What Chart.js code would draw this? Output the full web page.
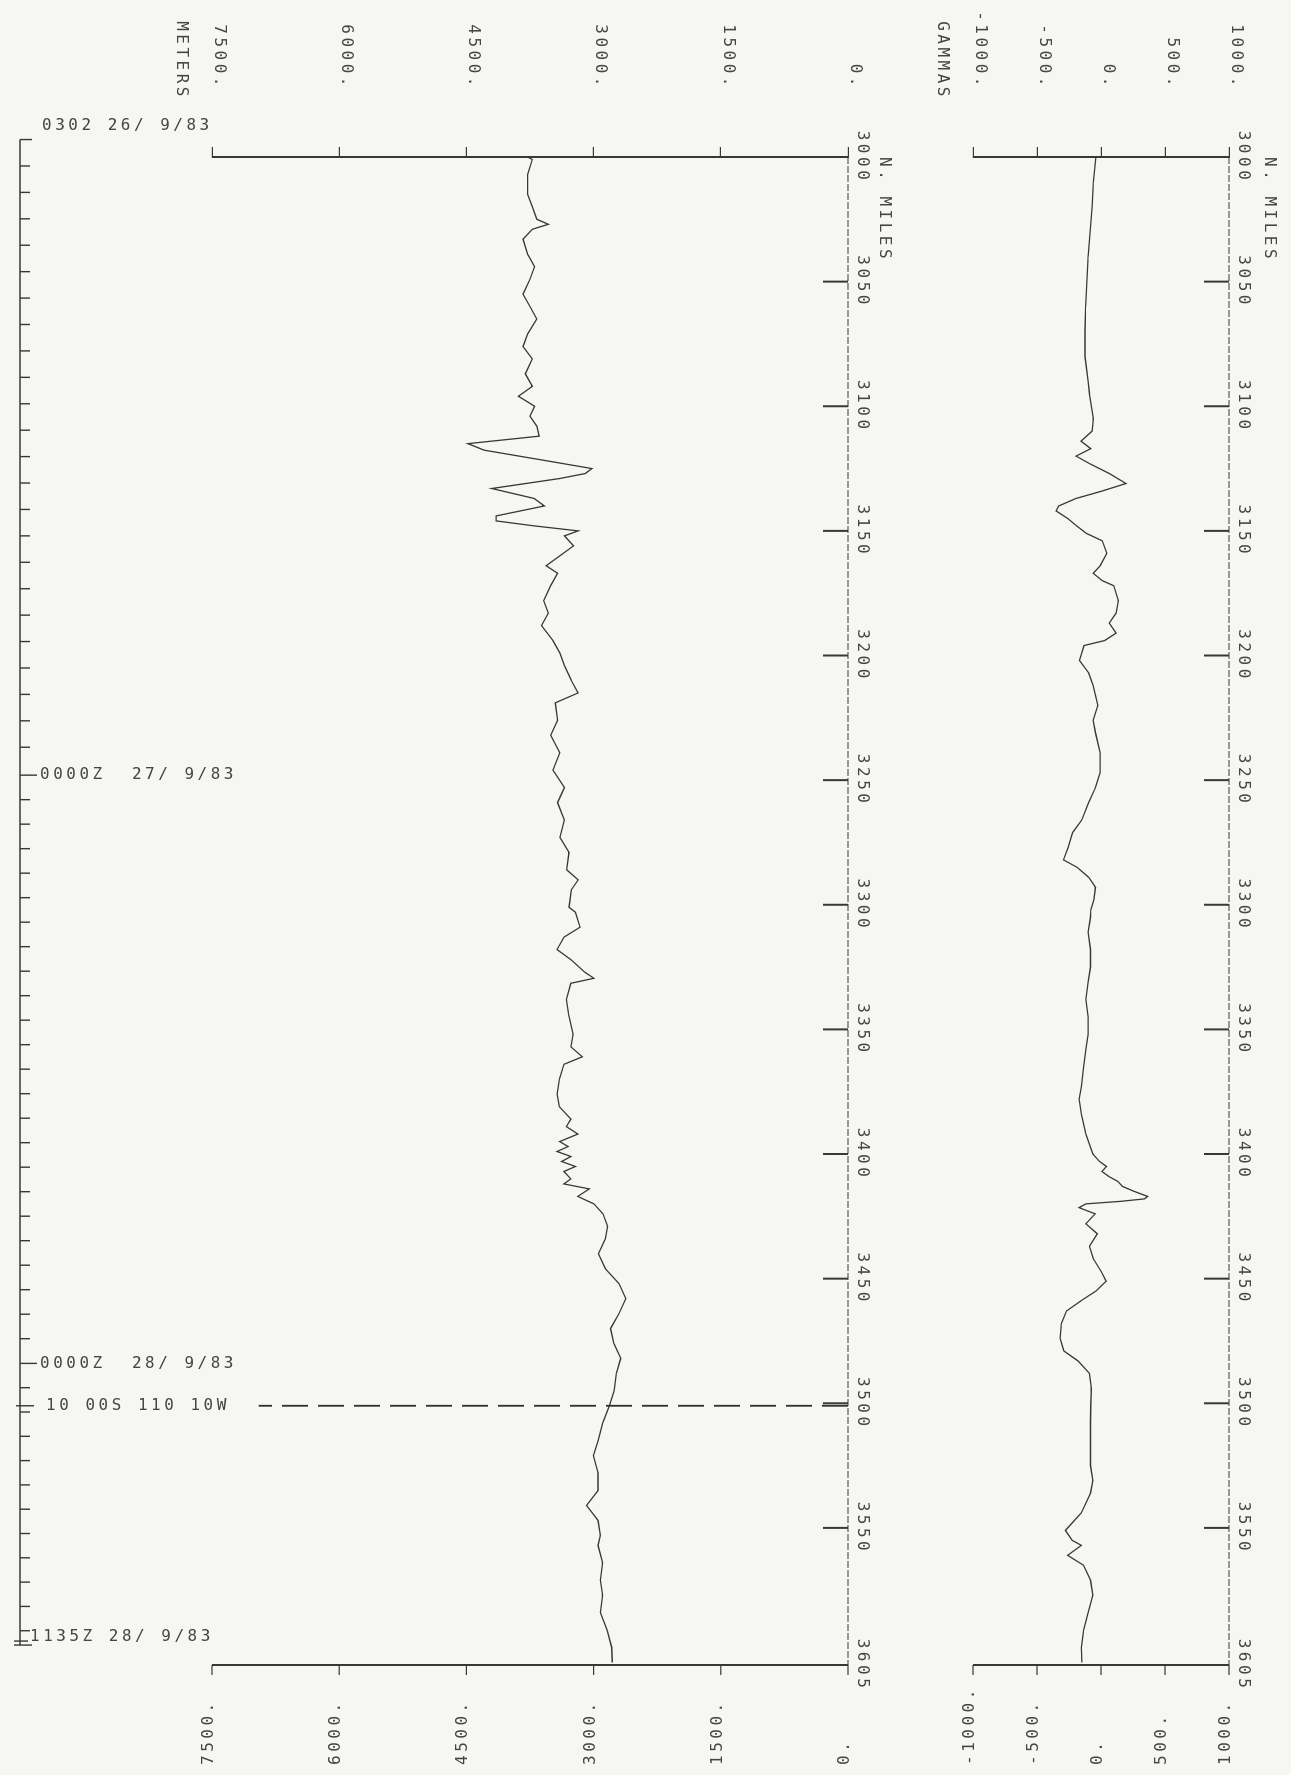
<!DOCTYPE html>
<html><head><meta charset="utf-8">
<script src="https://cdn.jsdelivr.net/npm/chart.js"></script>
<style>
html,body{margin:0;padding:0;background:#f6f6f3;overflow:hidden;}
body{width:1291px;height:1775px;position:relative;}
#rot{position:absolute;left:0;top:0;width:1775px;height:1291px;transform-origin:0 0;transform:translate(1291px,0) rotate(90deg);}
.c{position:absolute;left:0;width:1775px;}
</style></head><body>
<div id="rot">
 <div class="c" style="top:0;height:360px"><canvas id="mag"></canvas></div>
 <div class="c" style="top:360px;height:760px"><canvas id="dep"></canvas></div>
 <div class="c" style="top:1040px;height:251px"><canvas id="tim"></canvas></div>
</div>
<script>
// ---- axis definitions ----
const mileMin = 3000, mileMax = 3605;
const mileLabels = [3000,3050,3100,3150,3200,3250,3300,3350,3400,3450,3500,3550,3605];
const mileInnerTicks = [3050,3100,3150,3200,3250,3300,3350,3400,3450,3500,3550];
const gammaTicks = [-1000,-500,0,500,1000];
const meterTicks = [0,1500,3000,4500,6000,7500];

// ---- magnetics (gammas) ----
const magMiles = [3000,3010,3020,3030,3040,3050,3060,3070,3080,3090,
 3095,3100,3105,3110,3114,3117,3120,3123,3127,3131,
 3134,3137,3140,3142,3145,3148,3151,3154,3159,3164,
 3167,3170,3172,3178,3183,3187,3191,3194,3196,3202,
 3207,3212,3220,3226,3231,3239,3247,3253,3259,3266,
 3271,3277,3282,3285,3289,3293,3298,3302,3305,3311,
 3318,3325,3331,3338,3345,3352,3358,3365,3373,3378,
 3384,3392,3396,3400,3403,3405,3407,3409,3411,3413,
 3415,3417,3418,3419,3420,3421.5,3424,3428,3432,3437,
 3442,3447,3451,3455,3459,3463,3468,3474,3479,3483,
 3488,3494,3501,3508,3517,3525,3531,3536,3544,3551,
 3555,3557,3561,3565,3571,3577,3584,3591,3598,3604];
const magGammas = [-40,-60,-70,-85,-100,-110,-120,-125,-125,-100,
 -90,-75,-60,-70,-156,-80,-195,-90,65,195,
 10,-195,-330,-350,-260,-190,-114,10,46,-7,
 -61,11,100,136,118,64,118,29,-132,-168,
 -96,-61,-25,-61,-43,-7,-7,-43,-96,-150,
 -221,-257,-293,-186,-96,-43,-55,-79,-82,-100,
 -82,-82,-100,-118,-100,-100,-118,-136,-154,-171,
 -154,-118,-90,-64,-11,43,7,61,132,168,
 260,364,340,150,-118,-171,-46,-118,-29,-90,
 -60,0,40,-40,-160,-270,-310,-320,-290,-180,
 -90,-75,-80,-82,-82,-82,-64,-82,-154,-278,
 -225,-154,-260,-136,-82,-64,-100,-136,-154,-150];

// ---- bathymetry (meters) ----
const depthMiles = [3000,3001,3007,3015,3020,3025,3027,3029,3033,3039,
 3044,3049,3055,3060,3065,3071,3076,3081,3087,3092,
 3096,3100,3104,3108,3112,3115,3117.6,3122,3125,3127,
 3129,3133,3137,3140,3144,3146,3148,3150,3152,3156,
 3160,3164,3167,3172,3178,3183,3188,3194,3199,3204,
 3210,3215,3219,3226,3232,3239,3246,3253,3259,3266,
 3273,3279,3286,3290,3294,3301,3303,3309,3313,3318,
 3322,3327,3329.5,3331.5,3338,3344,3352,3357,3361,3364,
 3370,3376,3381,3386,3389,3392,3395,3397,3399,3401,
 3403,3405,3407,3410,3412,3414,3417,3420,3424,3429,
 3434,3440,3446,3452,3458,3464,3470,3476,3482,3488,
 3495,3501,3508,3515,3521,3528,3535,3541,3547,3553,
 3557,3564,3571,3577,3584,3591,3598,3604];
const depthMeters = [3778,3723,3778,3778,3723,3669,3534,3723,3832,3778,
 3696,3750,3832,3750,3669,3778,3832,3723,3805,3723,
 3886,3696,3750,3669,3642,4482,4293,3534,3019,3100,
 3400,4200,3700,3580,4150,4150,3700,3182,3344,3236,
 3398,3561,3425,3507,3588,3534,3615,3480,3398,3344,
 3263,3182,3452,3425,3507,3398,3480,3344,3425,3344,
 3398,3290,3317,3182,3263,3290,3214,3160,3350,3431,
 3268,3106,2997,3268,3322,3295,3241,3268,3133,3350,
 3404,3431,3404,3268,3322,3187,3400,3300,3431,3268,
 3377,3214,3350,3268,3350,3051,3187,2997,2889,2835,
 2862,2943,2862,2700,2620,2700,2800,2760,2680,2732,
 2759,2813,2894,2948,3003,2948,2948,3084,2948,2921,
 2948,2894,2921,2894,2921,2840,2786,2780];

// ---- ship time track (annotations keyed to distance) ----
const timeLabels = ['0302 26/ 9/83','0000Z  27/ 9/83','0000Z  28/ 9/83','1135Z 28/ 9/83'];
const timeMiles = [2993, 3248, 3484, 3597];
const timeTickStep = [10.6, 9.83, 9.75];   // miles per hourly mark in each segment
const fixLabel = '10 00S 110 10W';
const fixMile = 3501;
const fixDepthEnd = 6950;

const INK = '#383838', TXT = '#454545';
const FONT = {family:'DejaVu Sans Mono', size:16};
const FONT_CSS = '16px "DejaVu Sans Mono"';
const SPACING = '3.5px';

const spacingPlugin = {id:'spacing', beforeDraw(chart){ chart.ctx.letterSpacing = SPACING; }};

function line(ctx,x1,y1,x2,y2){ctx.beginPath();ctx.moveTo(x1,y1);ctx.lineTo(x2,y2);ctx.stroke();}

function panelDecor(valueTicks, unit, titleGap){
  return {id:'decor', afterDraw(chart){
    const ctx = chart.ctx, a = chart.chartArea, x = chart.scales.x, y = chart.scales.y;
    ctx.save();
    ctx.letterSpacing = SPACING;
    ctx.strokeStyle = INK; ctx.fillStyle = TXT; ctx.font = FONT_CSS;
    ctx.lineWidth = 1; ctx.setLineDash([7,2]);
    line(ctx, a.left, a.top, a.right, a.top);
    ctx.setLineDash([]);
    ctx.lineWidth = 2;
    mileInnerTicks.forEach(m => { const px = x.getPixelForValue(m); line(ctx, px, a.top, px, a.top + 25); });
    ctx.lineWidth = 2;
    line(ctx, a.right, a.top, a.right, a.bottom);
    ctx.lineWidth = 1.2;
    valueTicks.forEach(v => {
      const py = y.getPixelForValue(v);
      line(ctx, a.right, py, a.right + 10, py);
      ctx.save();
      ctx.translate(a.right + 100, py - 1);
      ctx.rotate(Math.PI);
      ctx.textAlign = 'left'; ctx.textBaseline = 'alphabetic';
      ctx.fillText(v + '.', 0, 0);
      ctx.restore();
    });
    ctx.textAlign = 'left'; ctx.textBaseline = 'alphabetic';
    ctx.fillText('N. MILES', a.left, a.top - titleGap);
    ctx.textAlign = 'right';
    ctx.fillText(unit, 100, a.bottom + 35);
    ctx.restore();
  }};
}

function panelOptions(yMin, yMax, reverse, xHeight, padBottom, yTicks){
  return {
    responsive:true, maintainAspectRatio:false, animation:false,
    layout:{padding:{left:0, right:110, top:0, bottom:padBottom}},
    plugins:{legend:{display:false}, tooltip:{enabled:false}},
    elements:{point:{radius:0}, line:{tension:0}},
    scales:{
      x:{type:'linear', position:'top', min:mileMin, max:mileMax,
         afterFit(s){ s.height = xHeight; },
         afterBuildTicks(s){ s.ticks = mileLabels.map(v => ({value:v})); },
         grid:{display:false, drawTicks:false}, border:{display:false},
         ticks:{autoSkip:false, maxRotation:0, minRotation:0, padding:5, color:TXT, font:FONT, callback:v => String(v)}},
      y:{type:'linear', position:'left', min:yMin, max:yMax, reverse:reverse,
         afterFit(s){ s.width = 157; s.paddingTop = 0; s.paddingBottom = 0; },
         afterBuildTicks(s){ s.ticks = yTicks.map(v => ({value:v})); },
         grid:{display:true, drawOnChartArea:false, drawTicks:true, tickLength:10, color:INK, lineWidth:1.2},
         border:{display:true, color:INK, width:2},
         ticks:{padding:57, labelOffset:-7, color:TXT, font:FONT, callback:v => v + '.'}}
    }
  };
}

new Chart(document.getElementById('mag'), {
  type:'line',
  data:{datasets:[{data:magMiles.map((m,i)=>({x:m, y:magGammas[i]})), borderColor:INK, borderWidth:1.3, fill:false}]},
  options:panelOptions(-1000, 1000, false, 62, 42, gammaTicks),
  plugins:[spacingPlugin, panelDecor(gammaTicks, 'GAMMAS', 36)]
});

new Chart(document.getElementById('dep'), {
  type:'line',
  data:{datasets:[
    {data:depthMiles.map((m,i)=>({x:m, y:depthMeters[i]})), borderColor:INK, borderWidth:1.3, fill:false},
    {data:[{x:fixMile, y:0},{x:fixMile, y:fixDepthEnd}], borderColor:'#2e2e2e', borderWidth:1.8, borderDash:[26,10], fill:false}
  ]},
  options:panelOptions(0, 7500, true, 83, 41, meterTicks),
  plugins:[spacingPlugin, panelDecor(meterTicks, 'METERS', 32)]
});

const timePlugin = {id:'timeaxis', afterDraw(chart){
  const ctx = chart.ctx, x = chart.scales.x;
  const Y = 231;
  ctx.save();
  ctx.letterSpacing = SPACING;
  ctx.strokeStyle = INK; ctx.fillStyle = TXT; ctx.font = FONT_CSS;
  ctx.lineWidth = 1.6;
  const x0 = x.getPixelForValue(timeMiles[0]), x1 = x.getPixelForValue(timeMiles[timeMiles.length-1]);
  line(ctx, x0, Y, x1, Y);
  ctx.lineWidth = 1.4;
  for (let s = 0; s < timeMiles.length - 1; s++) {
    for (let m = timeMiles[s] + timeTickStep[s]; m < timeMiles[s+1] - 2; m += timeTickStep[s]) {
      const px = x.getPixelForValue(m);
      line(ctx, px, Y, px, Y - 10);
    }
  }
  line(ctx, x0, Y, x0, Y - 12);
  line(ctx, x1, Y + 6, x1, Y - 12);
  line(ctx, x1 - 4, Y + 6, x1 - 4, Y - 8);
  function vtext(str, px, yStart){
    ctx.save(); ctx.translate(px, yStart); ctx.rotate(-Math.PI/2);
    ctx.textAlign = 'left'; ctx.textBaseline = 'middle';
    ctx.fillText(str, 0, 0); ctx.restore();
  }
  vtext(timeLabels[0], x0 - 14, Y - 22);
  for (let i = 1; i < timeLabels.length - 1; i++) {
    const px = x.getPixelForValue(timeMiles[i]);
    line(ctx, px, Y, px, Y - 17);
    vtext(timeLabels[i], px, Y - 20);
  }
  vtext(timeLabels[timeLabels.length-1], x1 - 8, Y - 10);
  const pf = x.getPixelForValue(fixMile);
  line(ctx, pf, Y + 4, pf, Y - 14);
  vtext(fixLabel, pf, Y - 26);
  ctx.restore();
}};

new Chart(document.getElementById('tim'), {
  type:'line',
  data:{datasets:[]},
  options:{
    responsive:true, maintainAspectRatio:false, animation:false,
    layout:{padding:{left:157, right:110, top:0, bottom:0}},
    plugins:{legend:{display:false}, tooltip:{enabled:false}},
    scales:{x:{type:'linear', min:mileMin, max:mileMax, display:false}, y:{min:0, max:1, display:false}}
  },
  plugins:[timePlugin]
});
</script>
</body></html>
